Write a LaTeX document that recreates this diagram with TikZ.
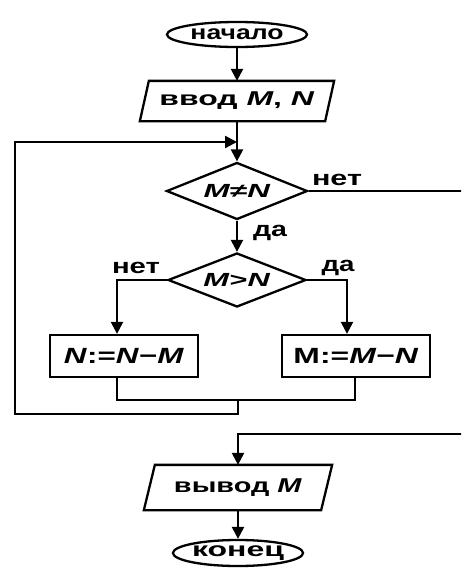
\documentclass[tikz,border=0pt]{standalone}
\usepackage{graphicx}
\usepackage{fontspec}
\setmainfont{Liberation Sans}
\usetikzlibrary{arrows.meta,shapes.geometric}
\newcommand{\fw}[2]{\resizebox{#1pt}{\height}{#2}}
\begin{document}
\begin{tikzpicture}[x=1pt,y=-1pt,
  line width=2.3pt,
  arr/.style={-{Triangle[width=12pt,length=12pt]}},
  term/.style={ellipse, draw, inner sep=0pt, font=\fontsize{20}{22}\selectfont\bfseries},
  dec/.style={diamond, draw, aspect=2.47, inner sep=0pt, font=\fontsize{19}{21}\selectfont\bfseries},
  proc/.style={rectangle, draw, inner sep=0pt, minimum width=148pt, minimum height=42pt, font=\fontsize{22}{24}\selectfont\bfseries},
  iobox/.style={rectangle, inner sep=0pt, font=\fontsize{20}{22}\selectfont\bfseries},
  lab/.style={inner sep=0pt, anchor=base, font=\fontsize{21}{23}\selectfont\bfseries}]
\useasboundingbox (0,0) rectangle (461,568);
\clip (0,0) rectangle (461,568);

% nodes
\node[term, minimum width=140pt, minimum height=25pt] (start) at (237,34.5) {\fw{93}{начало}};
\node[iobox, minimum width=192pt, minimum height=38pt] (in) at (237,101) {\fw{155}{ввод \textit{M}, \textit{N}}};
\draw ([xshift=9pt]in.north west) -- (in.north east) -- ([xshift=-9pt]in.south east) -- (in.south west) -- cycle;
\node[dec, minimum width=141pt, minimum height=57pt] (d1) at (237,191) {\fw{67}{\textit{M}≠\textit{N}}};
\node[dec, minimum width=138pt, minimum height=54pt] (d2) at (237,280) {\fw{67}{\textit{M}>\textit{N}}};
\node[proc] (b1) at (124,356) {\fw{120}{\textit{N}:=\textit{N}−\textit{M}}};
\node[proc] (b2) at (356,356) {\fw{125}{M:=\textit{M}−\textit{N}}};
\node[iobox, minimum width=186pt, minimum height=43pt] (out) at (238,487.5) {\fw{128}{вывод \textit{M}}};
\draw ([xshift=11pt]out.north west) -- (out.north east) -- ([xshift=-11pt]out.south east) -- (out.south west) -- cycle;
\node[term, minimum width=123pt, minimum height=26pt] (end) at (238,553) {\fw{92}{конец}};

% labels
\node[lab] (l1) at (337,185) {\fw{50}{нет}};
\node[lab] (l2) at (270,236) {\fw{34}{да}};
\node[lab] (l3) at (136,273) {\fw{48}{нет}};
\node[lab] (l4) at (338,271) {\fw{33}{да}};

% coordinates
\coordinate (join) at (237,142);
\coordinate (ml) at (117,400);
\coordinate (mr) at (355,400);
\coordinate (m) at (238,400);
\coordinate (lb) at (238,414);
\coordinate (ll) at (15,414);
\coordinate (lt) at (15,142);
\coordinate (rt) at (465,191);
\coordinate (rb) at (465,434);

% connectors
\draw[arr] (start.south) -- (in.north);
\draw[arr] (in.south) -- (d1.north);
\draw[arr] (d1.south) -- (d2.north);
\draw[arr] (d2.west) -| ([xshift=-7pt]b1.north);
\draw[arr] (d2.east) -| ([xshift=-9pt]b2.north);
\draw ([xshift=-7pt]b1.south) -- (ml) -- (mr) -- ([xshift=-1pt]b2.south);
\draw[arr] (m) -- (lb) -- (ll) -- (lt) -- (join);
\draw[arr] (d1.east) -- (rt) -- (rb) -| (out.north);
\draw[arr] (out.south) -- (end.north);
\end{tikzpicture}
\end{document}
